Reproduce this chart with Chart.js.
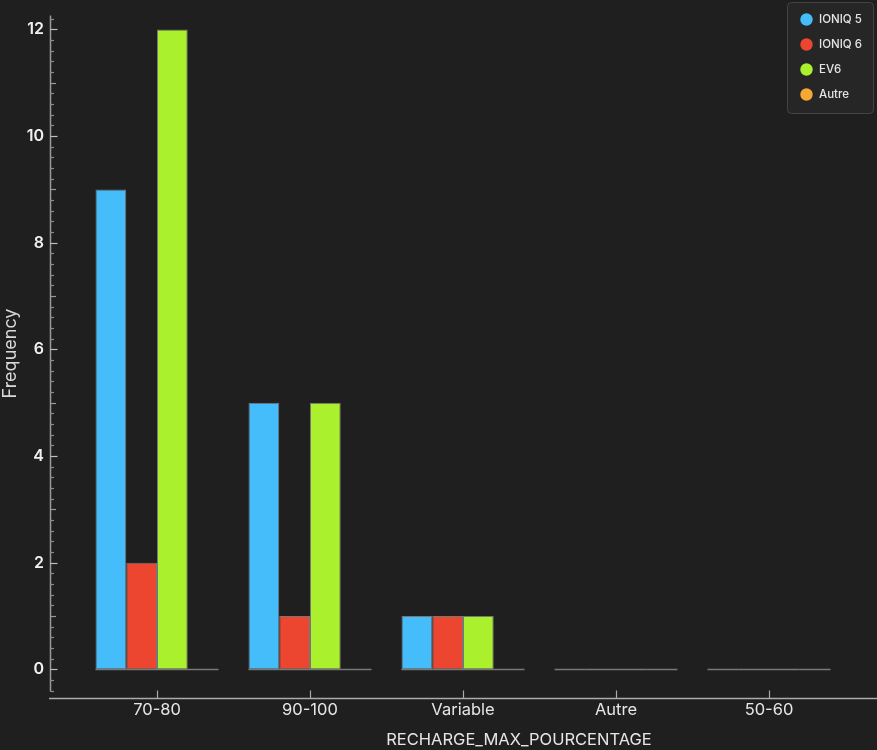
<!DOCTYPE html>
<html>
<head>
<meta charset="utf-8">
<script src="https://cdn.jsdelivr.net/npm/chart.js@4.4.1/dist/chart.umd.min.js"></script>
<style>
  html, body { margin: 0; padding: 0; background: #1f1f1f; }
  canvas { display: block; }
</style>
</head>
<body>
<canvas id="c" width="877" height="750"></canvas>
<script>
// ---- data ----
const categories = ['70-80', '90-100', 'Variable', 'Autre', '50-60'];
const seriesNames = ['IONIQ 5', 'IONIQ 6', 'EV6', 'Autre'];
const ioniq5 = [9, 5, 1, 0, 0];
const ioniq6 = [2, 1, 1, 0, 0];
const ev6 = [12, 5, 1, 0, 0];
const autre = [0, 0, 0, 0, 0];
const yTicks = [0, 2, 4, 6, 8, 10, 12];
const xTitle = 'RECHARGE_MAX_POURCENTAGE';
const yTitle = 'Frequency';

const colors = ['#45bdfb', '#ec4631', '#aaf02d', '#f7a733'];
const seriesValues = [ioniq5, ioniq6, ev6, autre];

const BG = '#1f1f1f';
const FONT = "Inter, 'Liberation Sans', Arial, sans-serif";

const datasets = seriesNames.map((name, i) => ({
  label: name,
  data: seriesValues[i],
  backgroundColor: colors[i],
  borderColor: 'rgba(150,150,150,0.75)',
  borderWidth: 1,
  borderSkipped: false,
  categoryPercentage: 0.804,
  barPercentage: 1.0
}));

const bgPlugin = {
  id: 'bg',
  beforeDraw(chart) {
    const ctx = chart.ctx;
    ctx.save();
    ctx.fillStyle = BG;
    ctx.fillRect(0, 0, chart.width, chart.height);
    ctx.restore();
  }
};

// shrink the category range inside the plot area (axis spans wider than the bars)
const xRangePlugin = {
  id: 'xRange',
  afterLayout(chart) {
    const x = chart.scales.x;
    x._startPixel = x.left + 30.5;
    x._endPixel = x.right - 31.5;
    x._length = x._endPixel - x._startPixel;
  }
};

const axesPlugin = {
  id: 'axesDraw',
  afterDatasetsDraw(chart) {
    const ctx = chart.ctx;
    const ys = chart.scales.y;
    const xs = chart.scales.x;
    const ca = chart.chartArea;
    ctx.save();
    // baselines for each bar (zero-height bars show as grey lines)
    const y0 = Math.round(ys.getPixelForValue(0)) + 0.5;
    ctx.strokeStyle = 'rgba(120,120,120,1)';
    ctx.lineWidth = 1.5;
    chart.data.datasets.forEach((ds, di) => {
      const meta = chart.getDatasetMeta(di);
      meta.data.forEach((el) => {
        ctx.beginPath();
        ctx.moveTo(el.x - el.width / 2, y0);
        ctx.lineTo(el.x + el.width / 2, y0);
        ctx.stroke();
      });
    });
    // y axis line
    const ax = Math.round(ca.left) + 0.5;
    ctx.strokeStyle = '#9a9a9a';
    ctx.lineWidth = 1.5;
    ctx.beginPath();
    ctx.moveTo(ax, ca.top);
    ctx.lineTo(ax, ca.bottom);
    ctx.stroke();
    // y ticks: major, medium, minor
    ctx.lineWidth = 1.2;
    for (let k = -2; k * 0.2 <= ys.max + 1e-9; k++) {
      const v = k / 5;
      const py = Math.round(ys.getPixelForValue(v)) + 0.5;
      let len = 3.5;
      if (k % 10 === 0) { len = 7; ctx.strokeStyle = '#bdbdbd'; }
      else if (k % 5 === 0) { len = 5.5; ctx.strokeStyle = '#9a9a9a'; }
      else { ctx.strokeStyle = '#8a8a8a'; }
      ctx.beginPath();
      ctx.moveTo(ax, py);
      ctx.lineTo(ax + len, py);
      ctx.stroke();
    }
    // x axis line
    const axY = Math.round(ca.bottom + 7) + 0.5;
    ctx.strokeStyle = '#ababab';
    ctx.lineWidth = 1.5;
    ctx.beginPath();
    ctx.moveTo(ca.left - 1, axY);
    ctx.lineTo(chart.width, axY);
    ctx.stroke();
    ctx.lineWidth = 1.2;
    xs.ticks.forEach((t, i) => {
      const px = Math.round(xs.getPixelForTick(i)) + 0.5;
      ctx.beginPath();
      ctx.moveTo(px, axY - 8);
      ctx.lineTo(px, axY);
      ctx.stroke();
    });
    ctx.restore();
  }
};

// x axis title (sits right of the plot centre in the reference)
const xTitlePlugin = {
  id: 'xTitle',
  afterDraw(chart) {
    const ctx = chart.ctx;
    const ca = chart.chartArea;
    ctx.save();
    ctx.font = "16.5px " + FONT;
    ctx.fillStyle = '#e6e6e6';
    ctx.textAlign = 'center';
    ctx.textBaseline = 'middle';
    const cx = (ca.left + chart.width) / 2 + 55.5;
    ctx.fillText(xTitle, cx, chart.height - 10);
    ctx.restore();
  }
};

const legendPlugin = {
  id: 'customLegend',
  afterDraw(chart) {
    const ctx = chart.ctx;
    const x0 = 787.5, y0 = 2.5, w = 86, h = 111, r = 4;
    ctx.save();
    ctx.fillStyle = '#262626';
    ctx.strokeStyle = '#444444';
    ctx.lineWidth = 1;
    ctx.beginPath();
    ctx.roundRect(x0, y0, w, h, r);
    ctx.fill();
    ctx.stroke();
    ctx.font = "500 11.5px " + FONT;
    ctx.textBaseline = 'middle';
    ctx.textAlign = 'left';
    chart.data.datasets.forEach((ds, i) => {
      const cy = 19.5 + i * 25;
      ctx.fillStyle = ds.backgroundColor;
      ctx.beginPath();
      ctx.arc(806.5, cy, 6.2, 0, Math.PI * 2);
      ctx.fill();
      ctx.fillStyle = '#e4e4e4';
      ctx.fillText(ds.label, 819, cy + 0.5);
    });
    ctx.restore();
  }
};

new Chart(document.getElementById('c'), {
  type: 'bar',
  data: { labels: categories, datasets },
  options: {
    responsive: false,
    animation: false,
    devicePixelRatio: 1,
    layout: { padding: { top: 0, right: 0, left: 0, bottom: 20.8 } },
    plugins: {
      legend: { display: false },
      tooltip: { enabled: false }
    },
    scales: {
      x: {
        type: 'category',
        offset: true,
        grid: { display: false, drawTicks: false },
        border: { display: false },
        ticks: {
          color: '#e6e6e6',
          font: { family: FONT, size: 16.5 },
          padding: 9,
          maxRotation: 0
        },
        title: { display: false }
      },
      y: {
        type: 'linear',
        min: -0.4125,
        max: 12.26,
        bounds: 'data',
        grid: { display: false, drawTicks: false },
        border: { display: false },
        afterBuildTicks(scale) {
          scale.ticks = yTicks.map(v => ({ value: v }));
        },
        afterFit(scale) { scale.width = 50; },
        ticks: {
          color: '#f0f0f0',
          font: { family: FONT, size: 16, weight: '600' },
          padding: 6,
          includeBounds: false
        },
        title: {
          display: true,
          text: yTitle,
          color: '#d8d8d8',
          font: { family: FONT, size: 18 },
          padding: { top: 0, bottom: 1 }
        }
      }
    }
  },
  plugins: [bgPlugin, xRangePlugin, axesPlugin, xTitlePlugin, legendPlugin]
});
</script>
</body>
</html>
